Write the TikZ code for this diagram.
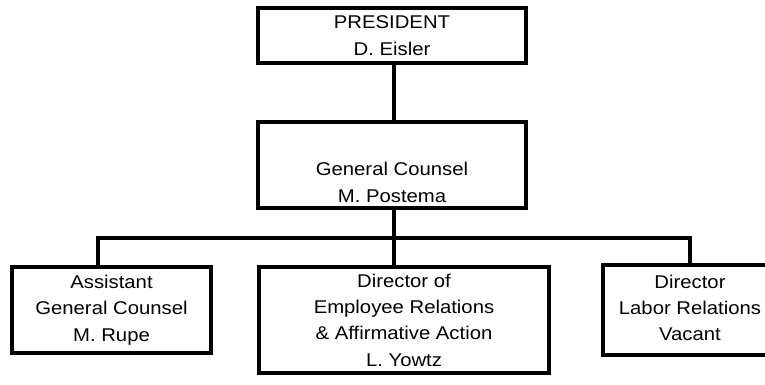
\documentclass[tikz,border=0pt]{standalone}
\usepackage{fontspec}
\setmainfont{Liberation Sans}[FakeStretch=1.1]
\usetikzlibrary{positioning,calc}

\begin{document}
\begin{tikzpicture}[x=0.02cm, y=-0.02cm,
  every node/.style={font=\fontsize{10.5}{15}\selectfont},
  box/.style={draw, line width=2pt, align=center, inner sep=0pt},
  conn/.style={line width=2pt}]
\useasboundingbox (0,0) rectangle (765,385);
% Top boxes
\node[box, minimum width=5.36cm, minimum height=1.1cm] (P) at (392,35.5) {PRESIDENT\\D. Eisler};
\node[box, minimum width=5.36cm, minimum height=1.72cm] (G) at (392,165) {\strut\\[2pt]General Counsel\\M. Postema};

% Staff boxes
\node[box, minimum width=3.98cm, minimum height=1.72cm] (A) at (111.5,310) {Assistant\\General Counsel\\M. Rupe};
\node[box, minimum width=5.8cm, minimum height=2.12cm] (E) at (404,320) {Director of\\Employee Relations\\\& Affirmative Action\\L. Yowtz};
\node[box, draw=none, minimum width=4.4cm, minimum height=1.72cm, anchor=west] (L) at (603,310) {};
\node[align=center] (Ltext) at (690,308) {Director\\Labor Relations\\Vacant};
\draw[conn] (L.north east) -- (L.north west) -- (L.south west) -- (L.south east);

% Lines
\coordinate (bar) at (394,238);
\draw[conn] (P.south -| bar) -- (G.north -| bar);
\draw[conn] (G.south -| bar) -- (bar);
\draw[conn] ([xshift=-0.27cm]A.north) |- (bar) -| (L.north -| Ltext);
\draw[conn] (bar) -- (bar |- E.north);
\end{tikzpicture}
\end{document}
